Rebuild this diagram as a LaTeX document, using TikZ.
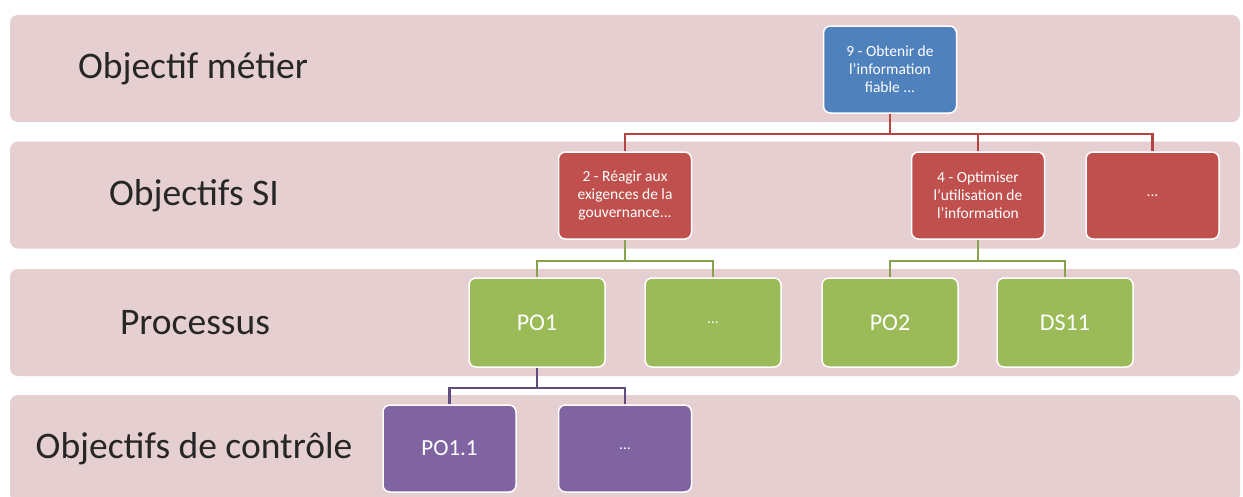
\documentclass[tikz,border=0pt]{standalone}
\usepackage{fontspec}
\setmainfont{Carlito}
\usetikzlibrary{positioning}

\definecolor{bandpink}{HTML}{E6CFD0}
\definecolor{metierblue}{HTML}{4F81BD}
\definecolor{sired}{HTML}{C0504D}
\definecolor{procgreen}{HTML}{9BBB59}
\definecolor{ctrlpurple}{HTML}{8064A2}
\definecolor{redwire}{HTML}{B5433F}
\definecolor{greenwire}{HTML}{86A24C}
\definecolor{purplewire}{HTML}{5F4D80}

\tikzset{
  band/.style={fill=bandpink, rounded corners=8pt, minimum width=1230pt,
    minimum height=107pt, inner sep=0pt},
  bandlabel/.style={text=black!85, font=\fontsize{37.5}{44}\selectfont},
  goalbox/.style={draw=white, line width=1.5pt, rounded corners=7pt,
    minimum width=133pt, minimum height=87pt, inner sep=2pt, text=white,
    align=center, font=\fontsize{15.5}{18}\selectfont},
  metier/.style={goalbox, fill=metierblue},
  si/.style={goalbox, fill=sired},
  proc/.style={goalbox, fill=procgreen, minimum width=136pt, minimum height=89pt},
  ctrl/.style={goalbox, fill=ctrlpurple},
  wire/.style={line width=2.5pt},
}

\begin{document}
\begin{tikzpicture}[x=1pt,y=-1pt]
  \clip (0,0) rectangle (1243,496);
  \fill[white] (0,0) rectangle (1243,496);

  % bands
  \node[band] (bandA) at (625,68.5) {};
  \node[band] (bandB) at (625,195) {};
  \node[band] (bandC) at (625,322.5) {};
  \node[band] (bandD) at (625,448.5) {};

  \node[bandlabel] (labA) at (193,69) {Objectif métier};
  \node[bandlabel] (labB) at (194,196) {Objectifs SI};
  \node[bandlabel] (labC) at (195,323) {Processus};
  \node[bandlabel] (labD) at (194,449) {Objectifs de contrôle};

  % objectif metier
  \node[metier] (m9) at (890,69.5) {9 - Obtenir de\\l'information\\fiable ...};

  % objectifs SI
  \node[si] (si2) at (625,195.5) {2 - Réagir aux\\exigences de la\\gouvernance...};
  \node[si] (si4) at (978,195.5) {4 - Optimiser\\l'utilisation de\\l'information};
  \node[si] (siX) at (1152.5,195.5) {...};

  % processus
  \node[proc] (po1) at (537,322.5) {\fontsize{24}{28}\selectfont PO1};
  \node[proc] (procX) at (713,322.5) {...};
  \node[proc] (po2) at (890,322.5) {\fontsize{24}{28}\selectfont PO2};
  \node[proc] (ds11) at (1065,322.5) {\fontsize{24}{28}\selectfont DS11};

  % objectifs de controle
  \node[ctrl] (po11) at (449.5,448.5) {\fontsize{23}{27}\selectfont PO1.1};
  \node[ctrl] (ctrlX) at (625,448.5) {...};

  % connectors
  \begin{scope}[wire, redwire]
    \draw (m9.south) -- ++(0,20) -| (si2.north);
    \draw (m9.south) -- ++(0,20) -| (si4.north);
    \draw (m9.south) -- ++(0,20) -| (siX.north);
  \end{scope}
  \begin{scope}[wire, greenwire]
    \draw (si2.south) -- ++(0,21) -| (po1.north);
    \draw (si2.south) -- ++(0,21) -| (procX.north);
    \draw (si4.south) -- ++(0,21) -| (po2.north);
    \draw (si4.south) -- ++(0,21) -| (ds11.north);
  \end{scope}
  \begin{scope}[wire, purplewire]
    \draw (po1.south) -- ++(0,20) -| (po11.north);
    \draw (po1.south) -- ++(0,20) -| (ctrlX.north);
  \end{scope}
\end{tikzpicture}
\end{document}
